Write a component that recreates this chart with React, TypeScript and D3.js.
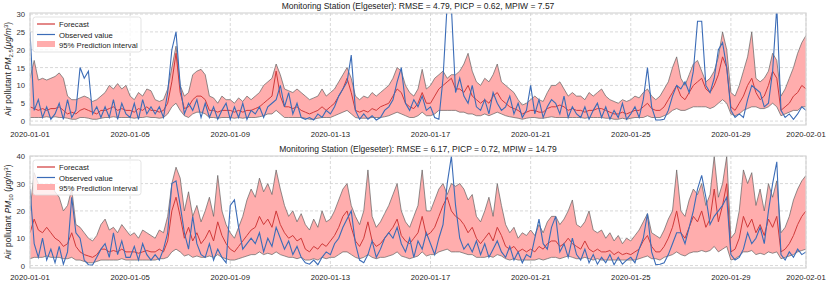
import React from 'react'
import * as d3 from 'd3'

// 4-hourly samples, 2020-01-01 00:00 .. 2020-02-01 00:00 (6 per day + end point)
const pm25Upper = [
  12, 17, 11.5, 12, 11.5, 12,
  12.5, 13.5, 12, 7, 6, 6,
  6.5, 7, 6.5, 5.5, 6, 7,
  8, 10, 9, 10.5, 9, 10,
  7, 6, 8, 7, 9, 8.5,
  6, 5.5, 6, 9, 15, 21,
  10, 7, 8, 13, 14, 14.5,
  13, 7, 6.5, 5, 7, 6,
  6, 5, 6.5, 5.5, 7, 6,
  7, 8, 10, 11, 12, 16,
  13, 9, 8.5, 8, 9, 8,
  7, 6, 6.5, 7, 9, 7,
  8, 9, 11, 13, 15, 12,
  7, 6, 7, 6.5, 8, 7,
  8, 9, 10, 12, 15, 14,
  10, 8, 7, 9, 14.5, 9,
  10, 12, 13, 14, 12, 13,
  13, 14, 16, 19, 14, 11,
  10, 12, 11, 13, 16, 11,
  10, 9, 8, 6, 4.5, 5,
  6, 7, 6, 5.5, 8, 10,
  10, 11, 9, 7, 8, 7,
  7, 6, 8, 7, 8, 9,
  7, 6, 5.5, 5, 6, 5.5,
  6, 7, 6.5, 8, 9, 7,
  6, 7, 9, 11, 15, 18,
  12, 10, 13, 16, 17, 14,
  11, 12, 14, 18, 25, 20,
  8, 7, 10, 14, 18, 25,
  12, 11, 12, 14, 19, 17,
  7, 9, 12, 15, 19, 22,
  24,
]
const pm25Forecast = [
  4, 3.5, 3, 3.5, 3, 3.5,
  3.5, 4, 3, 2, 2.5, 2,
  3, 3.5, 3, 2.5, 2, 3,
  3, 3.5, 4, 3, 3.5, 3,
  3, 2.5, 3.5, 3, 4, 3,
  3, 2.5, 3, 5, 11, 19,
  8, 3.5, 4, 6, 7, 7,
  6, 3, 3, 2.5, 3, 3,
  3, 2.5, 3, 2.5, 3, 3,
  3.5, 4, 5, 6, 7, 14,
  7, 4, 4, 3.5, 4, 3,
  2.5, 2, 2.5, 3, 4, 3,
  4, 5, 7, 9, 12, 8,
  3, 2.5, 3, 2.5, 3.5, 3,
  4, 4.5, 5, 7, 9, 8,
  5, 4, 3.5, 5, 8, 5,
  5, 7, 9, 10, 11, 12,
  9, 9, 8, 10, 7, 6,
  5, 6, 5, 7, 8, 6,
  5, 4, 3.5, 3, 2, 2.5,
  3, 3, 2.5, 2.5, 3.5, 4,
  4, 4.5, 4, 3, 3.5, 3,
  3, 2.5, 3, 3, 3.5, 3.5,
  3, 2.5, 2, 2, 2.5, 2,
  2.5, 3, 3, 4, 5, 3.5,
  3, 3, 4, 6, 8, 10,
  7, 6, 8, 10, 11, 12,
  9, 8, 10, 13, 18, 15,
  4, 3, 5, 7, 10, 12,
  8, 6, 7, 10, 14, 12,
  3, 4, 5, 7, 8, 10,
  9,
]
const pm25Lower = [
  1, 1, 1, 1, 1.2, 1,
  1.2, 1, 1, 0.8, 0.5, 0.5,
  1, 1, 0.8, 0.5, 0.5, 0.8,
  1, 1, 1.2, 1, 1, 1,
  1, 0.8, 1, 1, 1.2, 1,
  1, 0.8, 1, 2, 4, 5,
  3, 1.5, 1, 2, 2.5, 2.5,
  2, 1, 1, 0.8, 1, 1,
  1, 0.8, 1, 0.8, 1, 1,
  1, 1.2, 1.5, 2, 2, 3,
  2, 1, 1, 1, 1, 1,
  0.8, 0.5, 0.5, 0.8, 1, 1,
  1, 1.5, 2, 2.5, 3, 2,
  1, 0.8, 0.8, 0.8, 1, 1,
  1, 1.2, 1.5, 2, 2.5, 2,
  1.5, 1, 1, 1.5, 2.5, 1.5,
  1.5, 2, 3, 3, 3, 3,
  3, 2.5, 2.5, 2, 2, 1.5,
  1.5, 2, 1.5, 2, 2.5, 2,
  1.5, 1.2, 1, 0.8, 0.5, 0.8,
  1, 1, 0.8, 0.8, 1, 1.2,
  1, 1, 1, 1, 1, 1,
  1, 0.8, 1, 1, 1, 1,
  0.8, 0.8, 0.5, 0.5, 0.8, 0.5,
  0.8, 1, 1, 1, 1.5, 1,
  1, 1, 1.5, 2, 3, 3.5,
  3, 3, 3.5, 4, 4, 4,
  4, 3.5, 4, 5, 6, 5,
  2, 1.5, 2, 3, 3.5, 4,
  4, 3.5, 3.5, 4, 5, 4,
  1.5, 2, 2.5, 3, 3, 4,
  4,
]
const pm25Observed = [
  25, 3, 6, 1, 4, 0.5,
  2, 5, 0.5, 6, 1, 3,
  15, 12, 14, 2, 4, 1,
  4, 1, 6, 0.5, 5, 2,
  1, 5, 0.5, 6, 2, 4,
  2, 4, 1, 8, 20, 25,
  10, 2, 5, 3, 6, 1,
  5, 1, 4, 0.5, 3, 5,
  0.5, 4, 1, 5, 0.5, 3,
  2, 4, 1, 4, 5, 6,
  10, 4, 8, 2, 5, 1,
  0.5, 1, 0.3, 2, 1, 3,
  2, 4, 7, 9, 11, 18.5,
  3, 0.5, 2, 0.5, 1.5, 0.3,
  1, 3, 4, 6, 11, 15,
  5, 3, 6, 4, 7, 3,
  4, 1, 0.5, 12, 33, 32,
  8, 12, 7, 5, 10, 4,
  3, 6, 2, 8, 5, 3,
  4, 7, 2, 5, 1, 3,
  10, 2, 6, 1, 4, 6,
  5, 2, 7, 1, 4, 2,
  1, 4, 0.5, 3, 5, 1,
  4, 0.5, 3, 1, 5, 0.5,
  2, 4, 1, 6, 15, 4,
  0.3, 0.3, 0.5, 3, 7, 10,
  9, 11, 8, 14, 28, 28,
  10, 8, 12, 20, 22, 15,
  3, 1, 2, 1, 6, 10,
  9, 8, 4, 5, 14, 32,
  3, 1, 2, 0.5, 2, 4,
  3,
]

const pm10Upper = [
  20, 34, 30, 29, 28, 30,
  27, 25, 20, 22, 28, 15,
  14, 12, 10, 9, 11, 15,
  17, 13, 14, 12, 15, 13,
  11, 12, 10, 13, 12, 11,
  10, 13, 12, 18, 30, 36,
  32, 20, 27, 18, 22, 16,
  20, 25, 18, 33, 20, 15,
  12, 10, 14, 18, 24, 28,
  25, 32, 27, 30, 26, 35,
  28, 22, 18, 20, 16, 19,
  15, 13, 17, 14, 20, 16,
  17, 20, 24, 28, 30, 22,
  18, 15, 20, 35, 18, 14,
  16, 19, 22, 26, 30, 20,
  16, 14, 18, 22, 35, 20,
  20, 24, 28, 30, 26, 30,
  29, 30, 28, 24, 26, 18,
  16, 20, 25, 18, 30, 22,
  15, 12, 14, 10, 12, 11,
  13, 11, 15, 12, 16, 18,
  18, 15, 17, 20, 24, 15,
  14, 16, 20, 13, 12, 13,
  10, 12, 9, 11, 8, 10,
  9, 11, 13, 16, 19, 12,
  11, 10, 13, 17, 20, 35,
  20, 18, 24, 28, 26, 30,
  22, 26, 40, 25, 30, 40,
  10, 12, 20, 35, 30, 34,
  22, 28, 20, 30, 25, 31,
  12, 14, 18, 24, 28, 31,
  33,
]
const pm10Forecast = [
  12, 17, 13, 12, 14, 12,
  10, 9, 7, 8, 12, 7,
  5, 4, 3.5, 3, 4, 6,
  6, 5, 5.5, 5, 6, 5,
  5, 5, 4.5, 5, 5.5, 5,
  5, 6, 5, 9, 20, 25,
  18, 10, 14, 9, 12, 8,
  10, 13, 9, 16, 11, 8,
  6, 5, 7, 9, 11, 13,
  14, 18, 15, 17, 14, 20,
  15, 12, 10, 11, 9, 10,
  6, 5, 7, 6, 8, 7,
  9, 11, 14, 18, 20, 14,
  9, 7, 10, 16, 9, 7,
  8, 10, 12, 14, 17, 11,
  9, 8, 10, 12, 18, 11,
  12, 14, 18, 22, 25, 20,
  18, 17, 15, 12, 14, 10,
  8, 10, 12, 9, 14, 11,
  7, 6, 7, 5, 6, 5,
  6, 5, 7, 6, 8, 9,
  9, 7, 8, 10, 8, 7,
  6, 9, 6, 5, 6, 5,
  5, 5.5, 4, 5, 4, 4.5,
  4, 5, 6, 9, 11, 7,
  5, 5, 7, 10, 14, 20,
  12, 10, 14, 18, 16, 20,
  14, 17, 28, 16, 22, 30,
  5, 6, 10, 18, 14, 17,
  12, 15, 11, 17, 14, 18,
  5, 6, 8, 11, 15, 18,
  20,
]
const pm10Lower = [
  2.5, 3, 3, 3, 3.5, 3,
  3, 3, 2.5, 2.5, 3, 2,
  2, 1.5, 1, 1, 1.5, 2,
  2, 2, 2, 2, 2.5, 2,
  2, 2, 2, 2, 2, 2,
  2, 2.5, 2.5, 3, 5, 6,
  5, 3.5, 4, 3, 3.5, 3,
  3, 3.5, 3, 4, 3, 2.5,
  2, 2, 2.5, 3, 3.5, 4,
  4, 5, 4, 4.5, 4, 5,
  4, 3.5, 3, 3, 2.5, 3,
  2, 2, 2.5, 2, 3, 2.5,
  3, 3, 4, 5, 5, 4,
  3, 2.5, 3, 4, 3, 2.5,
  3, 3, 3.5, 4, 5, 3.5,
  3, 2.5, 3, 3.5, 5, 3.5,
  4, 4, 5, 5.5, 6, 5,
  5, 5, 4.5, 4, 4, 3,
  3, 3, 3.5, 3, 4, 3.5,
  2.5, 2, 2.5, 2, 2, 2,
  2, 2, 2.5, 2, 2.5, 3,
  3, 2.5, 3, 3.5, 3, 2.5,
  2.5, 3, 2.5, 2, 2.5, 2,
  2, 2, 2, 2, 2, 2,
  2, 2, 2.5, 3, 3.5, 2.5,
  2.5, 2, 3, 3.5, 4, 5,
  4, 3.5, 4.5, 5, 5, 5.5,
  5, 5.5, 7, 5, 6, 7,
  2, 2.5, 3.5, 5, 5, 5.5,
  4, 4.5, 4, 5, 4.5, 5,
  2.5, 3, 3.5, 4, 5, 5.5,
  6,
]
const pm10Observed = [
  28, 8, 3, 10, 2, 6,
  1, 7, 0.5, 5, 25, 12,
  10, 2, 0.3, 0.2, 3, 6,
  8, 3, 12, 4, 9, 3,
  3, 7, 2, 8, 4, 2,
  4, 2, 6, 12, 30, 31,
  22, 12, 6, 18, 8, 4,
  3, 8, 2, 6, 3, 1,
  22, 24, 14, 6, 8, 10,
  8, 12, 5, 10, 7, 14,
  10, 6, 9, 4, 7, 3,
  1, 0.5, 2, 0.3, 3, 5,
  4, 8, 10, 14, 17, 20,
  8, 2, 1, 4, 9, 3,
  6, 10, 12, 10, 14, 8,
  5, 10, 3, 9, 6, 12,
  8, 4, 10, 15, 30, 40,
  22, 10, 6, 8, 5, 9,
  4, 8, 3, 6, 9, 5,
  3, 7, 2, 5, 1, 4,
  3, 10, 17, 8, 6, 14,
  18, 5, 8, 3, 10, 4,
  2, 6, 1, 4, 0.5, 3,
  1, 4, 0.3, 3, 0.5, 2,
  3, 1, 6, 10, 19, 5,
  0.3, 0.5, 1, 4, 8, 12,
  12, 8, 14, 20, 28, 33,
  25, 15, 18, 20, 22, 25,
  4, 2, 3, 6, 12, 8,
  10, 14, 8, 20, 30, 38,
  4, 2, 5, 3, 6, 4,
  5,
]

const xTickDates = ['2020-01-01', '2020-01-05', '2020-01-09', '2020-01-13', '2020-01-17', '2020-01-21', '2020-01-25', '2020-01-29', '2020-02-01']
const pm25Ticks = [0, 5, 10, 15, 20, 25, 30]
const pm10Ticks = [0, 10, 20, 30, 40]
const legendLabels = ['Forecast', 'Observed value', '95% Prediction interval']

const W = 830
const H = 285
const margin = { left: 30, right: 24 }
const start = new Date(Date.UTC(2020, 0, 1))
const end = new Date(Date.UTC(2020, 1, 1))
const FONT = 'Liberation Sans, Arial, sans-serif'
const RED = '#d03a3a'
const BLUE = '#3b6cb7'
const FILL = '#ffadad'
const EDGE = '#626262'

type PanelProps = {
  id: string
  top: number
  height: number
  upper: number[]
  forecast: number[]
  lower: number[]
  observed: number[]
  yDomain: [number, number]
  yTicks: number[]
  title: string
  sub: string
  gap: boolean
}

function Panel(p: PanelProps) {
  const x = d3.scaleUtc().domain([start, end]).range([margin.left, W - margin.right])
  const y = d3.scaleLinear().domain(p.yDomain).range([p.top + p.height, p.top])
  const t = (i: number) => d3.utcHour.offset(start, i * 4)
  const idx = d3.range(p.upper.length)

  const area = d3.area<number>().x(i => x(t(i))).y0(i => y(p.lower[i])).y1(i => y(p.upper[i]))
  const line = (arr: number[]) => d3.line<number>().x(i => x(t(i))).y(i => y(arr[i]))(idx) || ''
  const fmt = d3.utcFormat('%Y-%m-%d')
  const x0 = margin.left
  const x1 = W - margin.right
  const bottom = p.top + p.height

  return (
    <g>
      <defs>
        <clipPath id={p.id}>
          <rect x={x0} y={p.top} width={x1 - x0} height={p.height} />
        </clipPath>
      </defs>
      {/* grid */}
      {p.yTicks.map(v => (
        <line key={'gy' + v} x1={x0} x2={x1} y1={y(v)} y2={y(v)} stroke="#cfcfcf" strokeWidth={0.8} strokeDasharray="3,2" />
      ))}
      {xTickDates.map(s => {
        const d = new Date(s + 'T00:00:00Z')
        return <line key={'gx' + s} x1={x(d)} x2={x(d)} y1={p.top} y2={bottom} stroke="#cfcfcf" strokeWidth={0.8} strokeDasharray="3,2" />
      })}
      <g clipPath={`url(#${p.id})`}>
        <path d={area(idx) || ''} fill={FILL} />
        <path d={line(p.upper)} fill="none" stroke={EDGE} strokeWidth={0.7} />
        <path d={line(p.lower)} fill="none" stroke={EDGE} strokeWidth={0.7} />
        <path d={line(p.forecast)} fill="none" stroke={RED} strokeWidth={1} />
        <path d={line(p.observed)} fill="none" stroke={BLUE} strokeWidth={1.1} />
      </g>
      <rect x={x0} y={p.top} width={x1 - x0} height={p.height} fill="none" stroke="#d6d6d6" strokeWidth={1.2} />
      {/* y ticks */}
      {p.yTicks.map(v => (
        <text key={'ty' + v} x={x0 - 5} y={y(v) + 3} fontSize={7.7} textAnchor="end" fill="#333" fontFamily={FONT}>{v}</text>
      ))}
      {xTickDates.map(s => {
        const d = new Date(s + 'T00:00:00Z')
        return <text key={'tx' + s} x={x(d)} y={bottom + 12} fontSize={7.7} textAnchor="middle" fill="#222" fontFamily={FONT}>{fmt(d)}</text>
      })}
      <text x={(x0 + x1) / 2} y={p.top - 4} fontSize={8.5} textAnchor="middle" fill="#222" fontFamily={FONT}>{p.title}</text>
      <text transform={`translate(11,${p.top + p.height / 2}) rotate(-90)`} fontSize={8.3} textAnchor="middle" fill="#222" fontFamily={FONT}>
        Air pollutant <tspan fontStyle="italic">PM</tspan>
        <tspan fontSize={6} dy={2}>{p.sub}</tspan>
        <tspan dy={-2}>{p.gap ? ' (' : '('}</tspan>
        <tspan fontStyle="italic">μg/m</tspan>
        <tspan fontSize={6} dy={-3}>3</tspan>
        <tspan dy={3}>)</tspan>
      </text>
      {/* legend */}
      <g transform={`translate(${x0 + 3},${p.top + 4})`}>
        <rect x={0} y={0} width={108} height={35} rx={2.5} fill="white" fillOpacity={0.8} stroke="#dcdcdc" strokeWidth={0.8} />
        <line x1={4} x2={22} y1={7} y2={7} stroke={RED} strokeWidth={1.2} />
        <line x1={4} x2={22} y1={17.5} y2={17.5} stroke={BLUE} strokeWidth={1.2} />
        <rect x={4} y={24} width={18} height={6} fill={FILL} />
        {legendLabels.map((l, i) => (
          <text key={l} x={26} y={10 + i * 10.5} fontSize={7.7} fill="#222" fontFamily={FONT}>{l}</text>
        ))}
      </g>
    </g>
  )
}

export default function App() {
  return (
    <svg width={W} height={H} style={{ position: 'absolute', left: 0, top: 0, background: 'white' }}>
      <Panel id="c1" top={13} height={112} upper={pm25Upper} forecast={pm25Forecast} lower={pm25Lower} observed={pm25Observed}
        yDomain={[-1.1, 30.3]} yTicks={pm25Ticks} title="Monitoring Station (Elgeseter): RMSE = 4.79, PICP = 0.62, MPIW = 7.57" sub="2.5" gap={false} />
      <Panel id="c2" top={156} height={112} upper={pm10Upper} forecast={pm10Forecast} lower={pm10Lower} observed={pm10Observed}
        yDomain={[-0.9, 40.1]} yTicks={pm10Ticks} title="Monitoring Station (Elgeseter): RMSE = 6.17, PICP = 0.72, MPIW = 14.79" sub="10" gap={true} />
    </svg>
  )
}
